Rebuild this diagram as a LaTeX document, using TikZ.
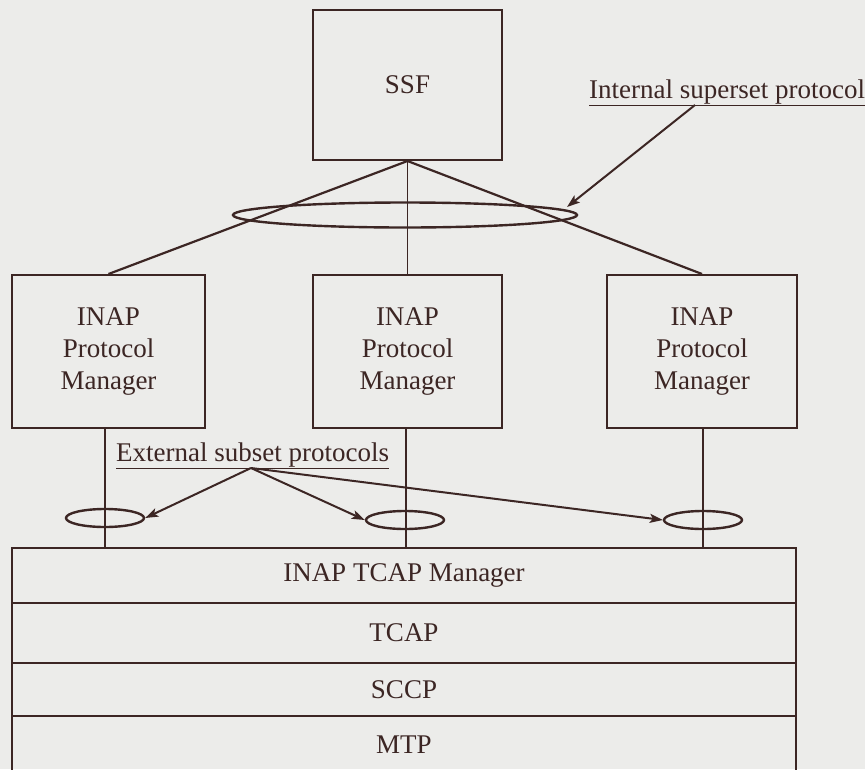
\documentclass[tikz,border=0pt]{standalone}
\usepackage{fontspec}
\setmainfont{Liberation Serif}
\usetikzlibrary{shapes.geometric,arrows.meta,calc}
\definecolor{ink}{RGB}{60,38,36}
\definecolor{paper}{RGB}{236,236,234}
\begin{document}
\begin{tikzpicture}[x=1pt,y=-1pt,
  every node/.style={text=ink, font=\fontsize{27}{32}\selectfont},
  box/.style={draw=ink, line width=2pt, rectangle, inner sep=0pt, align=center},
  ring/.style={draw=ink, line width=2.4pt, ellipse, inner sep=0pt},
  link/.style={draw=ink, line width=2.2pt},
  thin link/.style={draw=ink, line width=1.4pt},
  pointer/.style={draw=ink, line width=2pt, -{Stealth[length=13pt,width=9pt,inset=3pt]}},
  lbl/.style={inner sep=0pt, anchor=west}]
\fill[paper] (0,0) rectangle (865,769);
\useasboundingbox (0,0) rectangle (865,769);

% top box
\node[box, minimum width=189pt, minimum height=150pt] (ssf) at (407.5,85) {SSF};

% protocol managers
\node[box, minimum width=193pt, minimum height=153pt] (pm1) at (108.5,351.5) {INAP\\Protocol\\Manager};
\node[box, minimum width=189pt, minimum height=153pt] (pm2) at (407.5,351.5) {INAP\\Protocol\\Manager};
\node[box, minimum width=190pt, minimum height=153pt] (pm3) at (702,351.5) {INAP\\Protocol\\Manager};

% stack
\node[box, minimum width=784pt, minimum height=55pt] (tm) at (404,575.5) {INAP TCAP Manager};
\node[box, minimum width=784pt, minimum height=60pt] (tcap) at (404,633) {TCAP};
\node[box, minimum width=784pt, minimum height=53pt] (sccp) at (404,689.5) {SCCP};
\node[box, minimum width=784pt, minimum height=58pt] (mtp) at (404,745) {MTP};

% links SSF -> managers
\draw[link] (ssf.south) -- (pm1.north);
\draw[thin link] (ssf.south) -- (pm2.north);
\draw[link] (ssf.south) -- (pm3.north);

% big ellipse
\node[ring, minimum width=344pt, minimum height=25pt] (bigell) at (405,215) {};

% managers -> stack
\coordinate (d1) at (105,428);
\coordinate (d2) at (406,428);
\coordinate (d3) at (703,428);
\draw[thin link] (d1) -- (d1 |- tm.north);
\draw[thin link] (d2) -- (d2 |- tm.north);
\draw[thin link] (d3) -- (d3 |- tm.north);

% small ellipses
\node[ring, minimum width=78pt, minimum height=18pt] (e1) at (105,518) {};
\node[ring, minimum width=78pt, minimum height=18pt] (e2) at (405,520) {};
\node[ring, minimum width=78pt, minimum height=18pt] (e3) at (703,520) {};

% labels
\node[lbl] (intl) at (589,93) {\underline{Internal superset protocol}};
\node[lbl] (extl) at (116,456) {\underline{External subset protocols}};

% pointers
\coordinate (ia) at (695,105);
\coordinate (ib) at (567,207);
\draw[pointer] (ia) -- (ib);
\coordinate (ea) at (251,468);
\draw[pointer] (ea) -- (e1.east);
\draw[pointer] (ea) -- (e2.west);
\draw[pointer] (ea) -- (e3.west);
\end{tikzpicture}
\end{document}
